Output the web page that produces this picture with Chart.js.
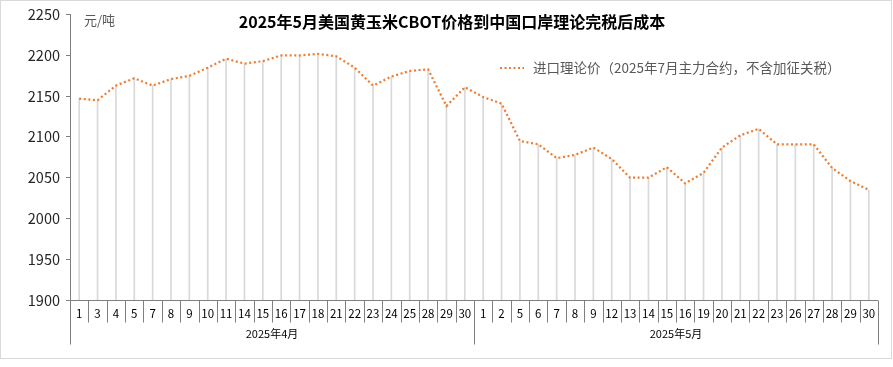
<!DOCTYPE html>
<html>
<head>
<meta charset="utf-8">
<script src="https://cdn.jsdelivr.net/npm/chart.js@4.4.1/dist/chart.umd.min.js"></script>
<style>
  html, body { margin: 0; padding: 0; background: #fff; }
  #wrap { width: 893px; height: 367px; }
</style>
</head>
<body>
<div id="wrap"><canvas id="priceChart" width="893" height="367"></canvas></div>
<script>
// 交易日（2025年4月、5月）
const aprDays = ["1","3","4","5","7","8","9","10","11","14","15","16","17","18","21","22","23","24","25","28","29","30"];
const mayDays = ["1","2","5","6","7","8","9","12","13","14","15","16","19","20","21","22","23","26","27","28","29","30"];
const dayLabels = [...aprDays, ...mayDays];
const monthNames = ["2025年4月", "2025年5月"];
const monthCounts = [aprDays.length, mayDays.length];

// 进口理论价（元/吨）
const aprPrice = [2147,2145,2163,2172,2163,2171,2175,2185,2196,2190,2193,2200,2200,2202,2199,2185,2163,2174,2181,2183,2138,2161];
const mayPrice = [2149,2141,2095,2091,2074,2078,2087,2073,2050,2050,2063,2043,2056,2087,2102,2110,2091,2091,2091,2062,2046,2035];
const prices = [...aprPrice, ...mayPrice];

const seriesName = "进口理论价（2025年7月主力合约，不含加征关税）";
const titleText = "2025年5月美国黄玉米CBOT价格到中国口岸理论完税后成本";
const unitText = "元/吨";

const CJK = "'Noto Sans CJK SC', 'Noto Sans', sans-serif";
const ORANGE = "#ED7D31";
const AXIS = "#808080";

// 外框 + 标题 + 单位 + 图例
const decoPlugin = {
  id: "deco",
  beforeDraw(chart) {
    const ctx = chart.ctx;
    ctx.save();
    ctx.fillStyle = "#fff";
    ctx.fillRect(0, 0, chart.width, chart.height);
    ctx.strokeStyle = "#d9d9d9";
    ctx.lineWidth = 1;
    ctx.strokeRect(0.5, 0.5, 891, 358);
    ctx.restore();
  },
  afterDraw(chart) {
    const ctx = chart.ctx;
    ctx.save();
    ctx.textBaseline = "middle";
    ctx.textAlign = "center";
    ctx.fillStyle = "#000";
    ctx.font = "bold 16px " + CJK;
    ctx.fillText(titleText, 452, 22);

    ctx.textAlign = "left";
    ctx.fillStyle = "#595959";
    ctx.font = "13px " + CJK;
    ctx.fillText(unitText, 84, 20);

    // 图例
    ctx.strokeStyle = ORANGE;
    ctx.lineWidth = 2;
    ctx.setLineDash([2, 2.5]);
    ctx.beginPath();
    ctx.moveTo(500, 68);
    ctx.lineTo(524, 68);
    ctx.stroke();
    ctx.setLineDash([]);
    ctx.font = "13.5px " + CJK;
    ctx.fillText(seriesName, 533, 68);
    ctx.restore();
  }
};

// 两级分类横轴（日 / 月）
const catAxisPlugin = {
  id: "catAxis",
  afterDraw(chart) {
    const { ctx, chartArea } = chart;
    const x = chart.scales.x;
    const n = dayLabels.length;
    const step = (chartArea.right - chartArea.left) / n;
    const y0 = Math.round(chartArea.bottom) + 0.5;
    const edge = i => (i < n ? x.getPixelForValue(i) - step / 2 : x.getPixelForValue(n - 1) + step / 2);

    const groupEdges = [0];
    monthCounts.forEach(c => groupEdges.push(groupEdges[groupEdges.length - 1] + c));

    ctx.save();
    ctx.strokeStyle = AXIS;
    ctx.lineWidth = 1;
    ctx.beginPath();
    ctx.moveTo(chartArea.left, y0);
    ctx.lineTo(chartArea.right, y0);
    for (let i = 0; i <= n; i++) {
      const bx = Math.round(edge(i)) + 0.5;
      const len = groupEdges.includes(i) ? 44 : 22;
      ctx.moveTo(bx, y0);
      ctx.lineTo(bx, y0 + len);
    }
    ctx.stroke();

    ctx.fillStyle = "#000";
    ctx.textAlign = "center";
    ctx.textBaseline = "middle";
    ctx.font = "11.5px " + CJK;
    dayLabels.forEach((lab, i) => ctx.fillText(lab, x.getPixelForValue(i), y0 + 13.5));

    ctx.font = "11px " + CJK;
    monthNames.forEach((m, g) => {
      const cx = (edge(groupEdges[g]) + edge(groupEdges[g + 1])) / 2;
      ctx.fillText(m, cx, y0 + 33.5);
    });
    ctx.restore();
  }
};

new Chart(document.getElementById("priceChart"), {
  data: {
    labels: dayLabels,
    datasets: [
      {
        type: "line",
        label: seriesName,
        data: prices,
        borderColor: ORANGE,
        borderWidth: 2.25,
        borderDash: [2, 2.6],
        borderCapStyle: "butt",
        pointRadius: 0,
        tension: 0,
        fill: false,
        order: 1
      },
      {
        type: "bar",
        label: "drop",
        data: prices,
        backgroundColor: "#d9d9d9",
        barThickness: 1,
        order: 2
      }
    ]
  },
  options: {
    responsive: false,
    animation: false,
    devicePixelRatio: 1,
    layout: { padding: { top: 12, bottom: 67, left: 0, right: 15 } },
    plugins: {
      legend: { display: false },
      title: { display: false },
      tooltip: { enabled: false }
    },
    scales: {
      x: {
        display: false,
        offset: true
      },
      y: {
        min: 1900,
        max: 2250,
        afterFit(scale) { scale.width = 70; },
        ticks: {
          stepSize: 50,
          padding: 6,
          color: "#262626",
          font: { size: 14.5, family: CJK },
          callback: v => String(v)
        },
        grid: {
          drawOnChartArea: false,
          drawTicks: true,
          tickLength: 4,
          color: AXIS
        },
        border: { display: true, color: AXIS }
      }
    }
  },
  plugins: [decoPlugin, catAxisPlugin]
});
</script>
</body>
</html>
